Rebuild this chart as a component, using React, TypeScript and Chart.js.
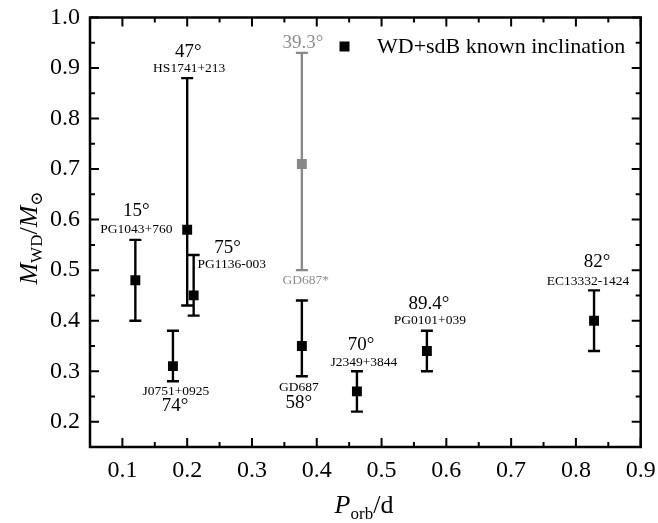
import React, { useEffect, useRef } from "react";
import { Chart, registerables } from "chart.js";

Chart.register(...registerables);

// ---- Data ----
const names = [
  "PG1043+760",
  "J0751+0925",
  "HS1741+213",
  "PG1136-003",
  "GD687",
  "J2349+3844",
  "PG0101+039",
  "EC13332-1424",
];
const periods = [0.12, 0.178, 0.2, 0.21, 0.377, 0.462, 0.57, 0.828];
const masses = [0.48, 0.31, 0.58, 0.45, 0.35, 0.26, 0.34, 0.4];
const massLow = [0.4, 0.28, 0.43, 0.41, 0.29, 0.22, 0.3, 0.34];
const massHigh = [0.56, 0.38, 0.88, 0.53, 0.44, 0.3, 0.38, 0.46];
const inclinations = ["15°", "74°", "47°", "75°", "58°", "70°", "89.4°", "82°"];

const altName = "GD687*";
const altPeriod = [0.377];
const altMass = [0.71];
const altLow = [0.5];
const altHigh = [0.93];
const altInclination = "39.3°";

const xTicks = [0.1, 0.2, 0.3, 0.4, 0.5, 0.6, 0.7, 0.8, 0.9];
const yTicks = [0.2, 0.3, 0.4, 0.5, 0.6, 0.7, 0.8, 0.9, 1.0];
const xMinor = [0.15, 0.25, 0.35, 0.45, 0.55, 0.65, 0.75, 0.85];
const yMinor = [0.25, 0.35, 0.45, 0.55, 0.65, 0.75, 0.85, 0.95];
const legendLabel = "WD+sdB known inclination";

// ---- Layout of annotations (pixel offsets from a cap of the error bar) ----
type Place = { anchor: "top" | "bottom"; ax: number; ay: number; nx: number; ny: number };
const placement: Record<string, Place> = {
  "PG1043+760": { anchor: "top", ax: 1, ay: -28.5, nx: 1, ny: -10 },
  "J0751+0925": { anchor: "bottom", ax: 2, ay: 25, nx: 3, ny: 10 },
  "HS1741+213": { anchor: "top", ax: 1, ay: -26, nx: 2, ny: -9.5 },
  "PG1136-003": { anchor: "top", ax: 34, ay: -7, nx: 38, ny: 9.5 },
  GD687: { anchor: "bottom", ax: -3, ay: 27, nx: -3, ny: 11.5 },
  "J2349+3844": { anchor: "top", ax: 4, ay: -26.5, nx: 7, ny: -8.5 },
  "PG0101+039": { anchor: "top", ax: 2, ay: -27, nx: 3, ny: -10 },
  "EC13332-1424": { anchor: "top", ax: 3, ay: -28.5, nx: -6, ny: -8.5 },
};
const altPlace = { ax: 1, ay: -9.5, nx: 4, ny: 10.5 };

const SERIF = "'Liberation Serif', 'DejaVu Serif', serif";
const BLACK = "#000000";
const GREY = "#888888";
const GREY_TEXT = "#8c8c8c";

const overlay = {
  id: "overlay",
  beforeDatasetsDraw(chart: any) {
    const { ctx, scales } = chart;
    const xs = scales.x;
    const ys = scales.y;
    const bar = (x: number, lo: number, hi: number, color: string) => {
      const px = xs.getPixelForValue(x);
      const pl = ys.getPixelForValue(lo);
      const ph = ys.getPixelForValue(hi);
      ctx.save();
      ctx.strokeStyle = color;
      ctx.lineWidth = 2.4;
      ctx.beginPath();
      ctx.moveTo(px, pl);
      ctx.lineTo(px, ph);
      ctx.moveTo(px - 6, pl);
      ctx.lineTo(px + 6, pl);
      ctx.moveTo(px - 6, ph);
      ctx.lineTo(px + 6, ph);
      ctx.stroke();
      ctx.restore();
    };
    altPeriod.forEach((p, i) => bar(p, altLow[i], altHigh[i], GREY));
    periods.forEach((p, i) => bar(p, massLow[i], massHigh[i], BLACK));
  },
  afterDraw(chart: any) {
    const { ctx, scales, chartArea } = chart;
    const xs = scales.x;
    const ys = scales.y;
    const { left, right, top, bottom } = chartArea;
    ctx.save();
    // frame
    ctx.strokeStyle = BLACK;
    ctx.lineWidth = 2.5;
    ctx.strokeRect(left, top, right - left, bottom - top);
    // ticks
    ctx.lineWidth = 2;
    ctx.beginPath();
    const xt = (v: number, len: number) => {
      const px = xs.getPixelForValue(v);
      ctx.moveTo(px, bottom);
      ctx.lineTo(px, bottom - len);
      ctx.moveTo(px, top);
      ctx.lineTo(px, top + len);
    };
    const yt = (v: number, len: number) => {
      const py = ys.getPixelForValue(v);
      ctx.moveTo(left, py);
      ctx.lineTo(left + len, py);
      ctx.moveTo(right, py);
      ctx.lineTo(right - len, py);
    };
    xTicks.forEach((v) => xt(v, 9));
    xMinor.forEach((v) => xt(v, 5));
    yTicks.forEach((v) => yt(v, 9));
    yMinor.forEach((v) => yt(v, 5));
    ctx.stroke();

    // annotations
    ctx.textAlign = "center";
    ctx.textBaseline = "middle";
    names.forEach((n, i) => {
      const pl = placement[n];
      const px = xs.getPixelForValue(periods[i]);
      const py = ys.getPixelForValue(pl.anchor === "top" ? massHigh[i] : massLow[i]);
      ctx.fillStyle = BLACK;
      ctx.font = `19px ${SERIF}`;
      ctx.fillText(inclinations[i], px + pl.ax, py + pl.ay);
      ctx.font = `13.5px ${SERIF}`;
      ctx.fillText(n, px + pl.nx, py + pl.ny);
    });
    {
      const px = xs.getPixelForValue(altPeriod[0]);
      const pt = ys.getPixelForValue(altHigh[0]);
      const pb = ys.getPixelForValue(altLow[0]);
      ctx.fillStyle = GREY_TEXT;
      ctx.font = `19px ${SERIF}`;
      ctx.fillText(altInclination, px + altPlace.ax, pt + altPlace.ay);
      ctx.font = `13.5px ${SERIF}`;
      ctx.fillText(altName, px + altPlace.nx, pb + altPlace.ny);
    }

    // legend
    ctx.fillStyle = BLACK;
    ctx.fillRect(339.5, 41.5, 10, 10);
    ctx.textAlign = "left";
    ctx.font = `22px ${SERIF}`;
    ctx.fillText(legendLabel, 377, 47);

    // x-axis title: P_orb/d
    ctx.textBaseline = "alphabetic";
    const big = `26px ${SERIF}`;
    const bigI = `italic 26px ${SERIF}`;
    const small = `17px ${SERIF}`;
    const parts = [
      { t: "P", f: bigI, dy: 0 },
      { t: "orb", f: small, dy: 6 },
      { t: "/d", f: big, dy: 0 },
    ];
    let total = 0;
    parts.forEach((p) => {
      ctx.font = p.f;
      total += ctx.measureText(p.t).width;
    });
    let cx = 364 - total / 2;
    const baseX = 513;
    parts.forEach((p) => {
      ctx.font = p.f;
      ctx.fillText(p.t, cx, baseX + p.dy);
      cx += ctx.measureText(p.t).width;
    });

    // y-axis title: M_WD/M_sun (rotated)
    ctx.save();
    ctx.translate(37, 0);
    ctx.rotate(-Math.PI / 2);
    const yparts = [
      { t: "M", f: bigI, dy: 0 },
      { t: "WD", f: small, dy: 5 },
      { t: "/", f: big, dy: 0 },
      { t: "M", f: bigI, dy: 0 },
      { t: "⊙", f: small, dy: 5 },
    ];
    let ytotal = 0;
    yparts.forEach((p) => {
      ctx.font = p.f;
      ytotal += ctx.measureText(p.t).width;
    });
    let cy = -238 - ytotal / 2;
    yparts.forEach((p) => {
      ctx.font = p.f;
      ctx.fillText(p.t, cy, p.dy);
      cy += ctx.measureText(p.t).width;
    });
    ctx.restore();
    ctx.restore();
  },
};

export default function App() {
  const ref = useRef<HTMLCanvasElement>(null);
  useEffect(() => {
    document.body.style.margin = "0";
    const canvas = ref.current;
    if (!canvas) return;
    const chart = new Chart(canvas, {
      type: "scatter",
      data: {
        datasets: [
          {
            label: legendLabel,
            data: periods.map((p, i) => ({ x: p, y: masses[i] })),
            pointStyle: "rect",
            pointRadius: 7,
            borderWidth: 0,
            backgroundColor: BLACK,
            borderColor: BLACK,
          },
          {
            label: altName,
            data: altPeriod.map((p, i) => ({ x: p, y: altMass[i] })),
            pointStyle: "rect",
            pointRadius: 7,
            borderWidth: 0,
            backgroundColor: GREY,
            borderColor: GREY,
          },
        ],
      },
      options: {
        responsive: false,
        animation: false,
        layout: { padding: { top: 17.5, right: 17.3, left: 0, bottom: 0 } },
        plugins: { legend: { display: false }, tooltip: { enabled: false } },
        scales: {
          x: {
            type: "linear",
            min: 0.05,
            max: 0.9,
            grid: { display: false, drawTicks: false, tickLength: 0 },
            border: { display: false },
            afterBuildTicks: (s: any) => {
              s.ticks = xTicks.map((v) => ({ value: v }));
            },
            afterFit: (s: any) => {
              s.height = 76;
              s.paddingLeft = 0;
              s.paddingRight = 0;
            },
            ticks: {
              color: BLACK,
              font: { family: SERIF, size: 24 },
              padding: 9,
              maxRotation: 0,
              callback: (v: any) => Number(v).toFixed(1),
            },
          },
          y: {
            type: "linear",
            min: 0.15,
            max: 1.0,
            grid: { display: false, drawTicks: false, tickLength: 0 },
            border: { display: false },
            afterBuildTicks: (s: any) => {
              s.ticks = yTicks.map((v) => ({ value: v }));
            },
            afterFit: (s: any) => {
              s.width = 90;
              s.paddingTop = 0;
              s.paddingBottom = 0;
            },
            ticks: {
              color: BLACK,
              font: { family: SERIF, size: 24 },
              padding: 10,
              callback: (v: any) => Number(v).toFixed(1),
            },
          },
        },
      },
      plugins: [overlay],
    });
    return () => chart.destroy();
  }, []);
  return (
    <div style={{ width: 658, height: 523 }}>
      <canvas ref={ref} width={658} height={523} style={{ display: "block" }} />
    </div>
  );
}
